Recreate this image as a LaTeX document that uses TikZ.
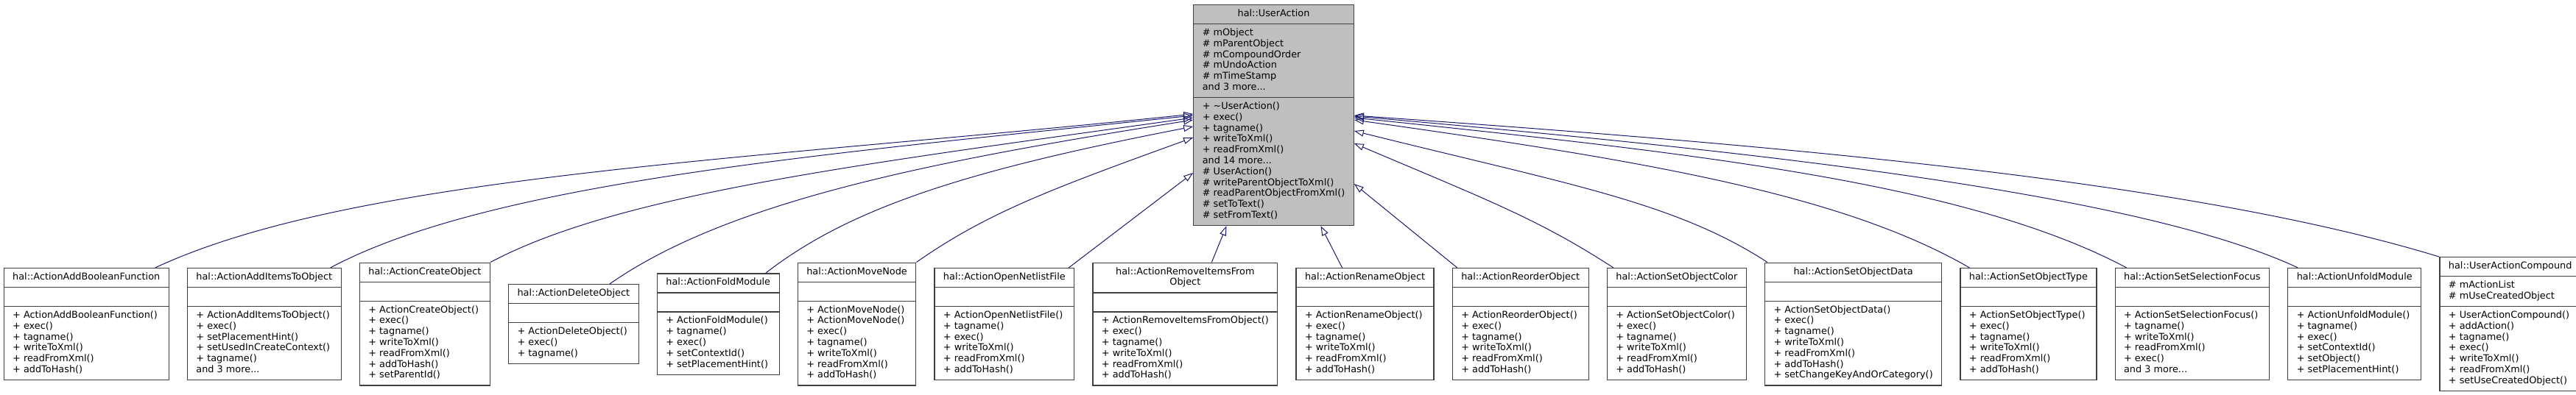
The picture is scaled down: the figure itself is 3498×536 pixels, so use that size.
\documentclass[tikz,border=0pt]{standalone}
\usepackage{fontspec}
\setmainfont{DejaVu Sans}
\usetikzlibrary{shapes.multipart, positioning, arrows.meta}

\definecolor{edgeblue}{HTML}{191970}
\definecolor{boxline}{HTML}{404040}
\definecolor{basefill}{HTML}{BFBFBF}

% one compartment of a class box
\newcommand{\mbr}[1]{\strut#1\strut}

\tikzset{
  cls/.style={rectangle split, rectangle split parts=3,
    rectangle split part align={center,left,left},
    draw=boxline, line width=1.2pt, fill=white, align=left,
    inner xsep=12pt, inner ysep=5pt,
    font=\fontsize{12.85}{14.8}\selectfont},
  inh/.style={draw=edgeblue, line width=1pt, -{Triangle[open, length=13pt, width=9pt]}}
}

\begin{document}
\begin{tikzpicture}[x=1pt, y=1pt]

\useasboundingbox (0,0) rectangle (3498,-536);

% Base class
\node[cls, fill=basefill, anchor=north] (ua) at (1729.5,-6) {\mbr{hal::UserAction}
  \nodepart{two}\mbr{\# mObject\\\# mParentObject\\\# mCompoundOrder\\\# mUndoAction\\\# mTimeStamp\\and 3 more...}
  \nodepart{three}\mbr{+ \textasciitilde UserAction()\\+ exec()\\+ tagname()\\+ writeToXml()\\+ readFromXml()\\and 14 more...\\\# UserAction()\\\# writeParentObjectToXml()\\\# readParentObjectFromXml()\\\# setToText()\\\# setFromText()}};

% Derived classes
\node[cls, anchor=west] (c1) at (4.6,-440.5) {\mbr{hal::ActionAddBooleanFunction}
  \nodepart{two}\strut
  \nodepart{three}\mbr{+ ActionAddBooleanFunction()\\+ exec()\\+ tagname()\\+ writeToXml()\\+ readFromXml()\\+ addToHash()}};
\node[cls, right=24pt of c1] (c2) {\mbr{hal::ActionAddItemsToObject}
  \nodepart{two}\strut
  \nodepart{three}\mbr{+ ActionAddItemsToObject()\\+ exec()\\+ setPlacementHint()\\+ setUsedInCreateContext()\\+ tagname()\\and 3 more...}};
\node[cls, right=24pt of c2] (c3) {\mbr{hal::ActionCreateObject}
  \nodepart{two}\strut
  \nodepart{three}\mbr{+ ActionCreateObject()\\+ exec()\\+ tagname()\\+ writeToXml()\\+ readFromXml()\\+ addToHash()\\+ setParentId()}};
\node[cls, right=24pt of c3] (c4) {\mbr{hal::ActionDeleteObject}
  \nodepart{two}\strut
  \nodepart{three}\mbr{+ ActionDeleteObject()\\+ exec()\\+ tagname()}};
\node[cls, right=24pt of c4] (c5) {\mbr{hal::ActionFoldModule}
  \nodepart{two}\strut
  \nodepart{three}\mbr{+ ActionFoldModule()\\+ tagname()\\+ exec()\\+ setContextId()\\+ setPlacementHint()}};
\node[cls, right=24pt of c5] (c6) {\mbr{hal::ActionMoveNode}
  \nodepart{two}\strut
  \nodepart{three}\mbr{+ ActionMoveNode()\\+ ActionMoveNode()\\+ exec()\\+ tagname()\\+ writeToXml()\\+ readFromXml()\\+ addToHash()}};
\node[cls, right=24pt of c6] (c7) {\mbr{hal::ActionOpenNetlistFile}
  \nodepart{two}\strut
  \nodepart{three}\mbr{+ ActionOpenNetlistFile()\\+ tagname()\\+ exec()\\+ writeToXml()\\+ readFromXml()\\+ addToHash()}};
\node[cls, right=24pt of c7] (c8) {\begin{tabular}{@{}c@{}}hal::ActionRemoveItemsFrom\\Object\end{tabular}
  \nodepart{two}\strut
  \nodepart{three}\mbr{+ ActionRemoveItemsFromObject()\\+ exec()\\+ tagname()\\+ writeToXml()\\+ readFromXml()\\+ addToHash()}};
\node[cls, right=24pt of c8] (c9) {\mbr{hal::ActionRenameObject}
  \nodepart{two}\strut
  \nodepart{three}\mbr{+ ActionRenameObject()\\+ exec()\\+ tagname()\\+ writeToXml()\\+ readFromXml()\\+ addToHash()}};
\node[cls, right=24pt of c9] (c10) {\mbr{hal::ActionReorderObject}
  \nodepart{two}\strut
  \nodepart{three}\mbr{+ ActionReorderObject()\\+ exec()\\+ tagname()\\+ writeToXml()\\+ readFromXml()\\+ addToHash()}};
\node[cls, right=24pt of c10] (c11) {\mbr{hal::ActionSetObjectColor}
  \nodepart{two}\strut
  \nodepart{three}\mbr{+ ActionSetObjectColor()\\+ exec()\\+ tagname()\\+ writeToXml()\\+ readFromXml()\\+ addToHash()}};
\node[cls, right=24pt of c11] (c12) {\mbr{hal::ActionSetObjectData}
  \nodepart{two}\strut
  \nodepart{three}\mbr{+ ActionSetObjectData()\\+ exec()\\+ tagname()\\+ writeToXml()\\+ readFromXml()\\+ addToHash()\\+ setChangeKeyAndOrCategory()}};
\node[cls, right=24pt of c12] (c13) {\mbr{hal::ActionSetObjectType}
  \nodepart{two}\strut
  \nodepart{three}\mbr{+ ActionSetObjectType()\\+ exec()\\+ tagname()\\+ writeToXml()\\+ readFromXml()\\+ addToHash()}};
\node[cls, right=24pt of c13] (c14) {\mbr{hal::ActionSetSelectionFocus}
  \nodepart{two}\strut
  \nodepart{three}\mbr{+ ActionSetSelectionFocus()\\+ tagname()\\+ writeToXml()\\+ readFromXml()\\+ exec()\\and 3 more...}};
\node[cls, right=24pt of c14] (c15) {\mbr{hal::ActionUnfoldModule}
  \nodepart{two}\strut
  \nodepart{three}\mbr{+ ActionUnfoldModule()\\+ tagname()\\+ exec()\\+ setContextId()\\+ setObject()\\+ setPlacementHint()}};
\node[cls, right=24pt of c15] (c16) {\mbr{hal::UserActionCompound}
  \nodepart{two}\mbr{\# mActionList\\\# mUseCreatedObject}
  \nodepart{three}\mbr{+ UserActionCompound()\\+ addAction()\\+ tagname()\\+ exec()\\+ writeToXml()\\+ readFromXml()\\+ setUseCreatedObject()}};

% Inheritance, into the left side
\draw[inh] ([xshift=-19pt]c1.north east) .. controls +(25:300) and +(186:600) .. ([yshift=-149pt]ua.north west);
\draw[inh] ([xshift=-15pt]c2.north east) .. controls +(28:250) and +(186:500) .. ([yshift=-151pt]ua.north west);
\draw[inh] (c3.north east) .. controls +(28:200) and +(188:450) .. ([yshift=-154pt]ua.north west);
\draw[inh] ([xshift=-40pt]c4.north east) .. controls +(35:200) and +(189:350) .. ([yshift=-157pt]ua.north west);
\draw[inh] ([xshift=-19pt]c5.north east) .. controls +(38:150) and +(191:300) .. ([yshift=-166pt]ua.north west);
\draw[inh] (c6.north east) .. controls +(35:120) and +(200:200) .. ([yshift=-181pt]ua.north west);
\draw[inh] ([xshift=-8pt]c7.north east) -- ([yshift=-229pt]ua.north west);

% Inheritance, into the bottom
\draw[inh] ([xshift=36pt]c8.north) -- ([xshift=-64pt]ua.south);
\draw[inh] ([xshift=-31pt]c9.north) -- ([xshift=64pt]ua.south);

% Inheritance, into the right side
\draw[inh] ([xshift=7pt]c10.north west) -- ([yshift=-244pt]ua.north east);
\draw[inh] ([xshift=9pt]c11.north west) .. controls +(147:120) and +(337:200) .. ([yshift=-189pt]ua.north east);
\draw[inh] ([xshift=4pt]c12.north west) .. controls +(147:150) and +(346:300) .. ([yshift=-172pt]ua.north east);
\draw[inh] ([xshift=13pt]c13.north west) .. controls +(150:200) and +(352:400) .. ([yshift=-157pt]ua.north east);
\draw[inh] ([xshift=16pt]c14.north west) .. controls +(152:250) and +(354:450) .. ([yshift=-154pt]ua.north east);
\draw[inh] ([xshift=14pt]c15.north west) .. controls +(155:250) and +(355:500) .. ([yshift=-152pt]ua.north east);
\draw[inh] (c16.north west) .. controls +(163:350) and +(356:600) .. ([yshift=-151pt]ua.north east);

\end{tikzpicture}
\end{document}
